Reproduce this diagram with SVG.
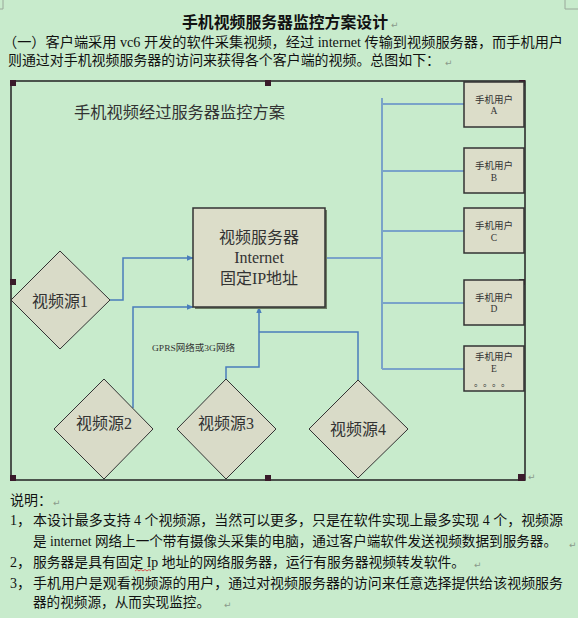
<svg xmlns="http://www.w3.org/2000/svg" width="578" height="618" viewBox="0 0 578 618">
<defs>
<style>
.bg{fill:#c8ebcc}
.body{font-family:"Liberation Serif","Noto Sans CJK SC",serif;font-size:14px;fill:#111}
.ret{font-family:"DejaVu Sans",sans-serif;font-size:9px;fill:#8a9a8a}
.dg{font-family:"Liberation Serif","Noto Sans CJK SC",serif;fill:#333}
.box{fill:#dcddc9;stroke:#333;stroke-width:1.5}
.dia{fill:#d9dbc8;stroke:#333;stroke-width:1}
.conn{fill:none;stroke:#4a7ebb;stroke-width:1.5}
.bus{fill:none;stroke:#7aa3c9;stroke-width:2}
.h{fill:#3a1a2a}
</style>
<marker id="arr" viewBox="0 0 10 10" refX="9" refY="5" markerWidth="7" markerHeight="7" orient="auto" markerUnits="userSpaceOnUse">
<path d="M0,1 L10,5 L0,9 Z" fill="#4a7ebb"/>
</marker>
</defs>
<rect class="bg" x="0" y="0" width="578" height="618"/>
<!-- page corner marks -->
<path d="M3,0 V9 H0 M565,0 V9 H578" fill="none" stroke="#9aa89a" stroke-width="1"/>
<!-- heading text -->
<text x="182" y="28" font-family="'Liberation Serif','Noto Sans CJK SC',serif" font-size="16" font-weight="bold" fill="#111" textLength="206" lengthAdjust="spacingAndGlyphs">手机视频服务器监控方案设计</text>
<text class="ret" x="391" y="28">↵</text>
<text class="body" x="3" y="47" textLength="560" lengthAdjust="spacingAndGlyphs">（一）客户端采用 vc6 开发的软件采集视频，经过 internet 传输到视频服务器，而手机用户</text>
<text class="body" x="8" y="65" textLength="432" lengthAdjust="spacingAndGlyphs">则通过对手机视频服务器的访问来获得各个客户端的视频。总图如下：</text>
<text class="ret" x="445" y="66">↵</text>
<!-- frame -->
<rect x="11" y="81" width="514" height="399" fill="none" stroke="#222" stroke-width="1.5"/>
<g class="h">
<rect x="10" y="80" width="6" height="6"/><rect x="265" y="80" width="6" height="6"/><rect x="519" y="80" width="6" height="6"/>
<rect x="10" y="279" width="6" height="6"/><rect x="519" y="279" width="6" height="6"/>
<rect x="10" y="475" width="6" height="6"/><rect x="265" y="475" width="6" height="6"/><rect x="518" y="474" width="7" height="7"/>
</g>
<text class="ret" x="528" y="480">↵</text>
<text class="dg" x="74" y="118" font-size="16" textLength="211" lengthAdjust="spacingAndGlyphs">手机视频经过服务器监控方案</text>
<text class="dg" x="152" y="351" font-size="9" textLength="83" lengthAdjust="spacingAndGlyphs">GPRS网络或3G网络</text>
<!-- connectors -->
<g id="connectors">
<path class="conn" d="M110,300 H123 V258 H193" marker-end="url(#arr)"/>
<path class="conn" d="M133,408 V307 H193" marker-end="url(#arr)"/>
<path class="conn" d="M226,379 V367 H259 V307" marker-end="url(#arr)"/>
<path class="conn" d="M358,380 V332 H259"/>
<path class="bus" d="M325,258 H382 M382,98 V369 M382,104 H464 M382,171 H464 M382,231 H464 M382,303 H464 M382,369 H464"/>
</g>
<!-- server -->
<g id="server">
<rect x="195" y="210" width="132" height="99" fill="#6a7a62"/>
<rect class="box" x="193" y="208" width="132" height="99"/>
<text class="dg" x="259" y="243" font-size="16" text-anchor="middle">视频服务器</text>
<text class="dg" x="259" y="263" font-size="16" text-anchor="middle">Internet</text>
<text class="dg" x="259" y="284" font-size="16" text-anchor="middle">固定IP地址</text>
</g>
<!-- sources -->
<g id="src1"><path class="dia" d="M60,251 L110,300 L60,349 L11,300 Z"/><text class="dg" x="60" y="307" font-size="16" text-anchor="middle">视频源1</text></g>
<g id="src2"><path class="dia" d="M104,379 L153,429 L104,479 L54,429 Z"/><text class="dg" x="104" y="429" font-size="16" text-anchor="middle">视频源2</text></g>
<g id="src3"><path class="dia" d="M226,379 L276,429 L226,479 L177,429 Z"/><text class="dg" x="226" y="429" font-size="16" text-anchor="middle">视频源3</text></g>
<g id="src4"><path class="dia" d="M358,380 L408,429 L358,478 L309,429 Z"/><text class="dg" x="358" y="435" font-size="16" text-anchor="middle">视频源4</text></g>
<!-- phones -->
<g id="userA"><rect class="box" x="464" y="82" width="60" height="45"/><text class="dg" x="494" y="103" font-size="9.5" text-anchor="middle">手机用户</text><text class="dg" x="494" y="114" font-size="9.5" text-anchor="middle">A</text></g>
<g id="userB"><rect class="box" x="464" y="148" width="60" height="45"/><text class="dg" x="494" y="169" font-size="9.5" text-anchor="middle">手机用户</text><text class="dg" x="494" y="181" font-size="9.5" text-anchor="middle">B</text></g>
<g id="userC"><rect class="box" x="464" y="208" width="60" height="45"/><text class="dg" x="494" y="229" font-size="9.5" text-anchor="middle">手机用户</text><text class="dg" x="494" y="241" font-size="9.5" text-anchor="middle">C</text></g>
<g id="userD"><rect class="box" x="464" y="280" width="60" height="45"/><text class="dg" x="494" y="301" font-size="9.5" text-anchor="middle">手机用户</text><text class="dg" x="494" y="312" font-size="9.5" text-anchor="middle">D</text></g>
<g id="userE"><rect class="box" x="464" y="346" width="60" height="45"/><text class="dg" x="494" y="360" font-size="9.5" text-anchor="middle">手机用户</text><text class="dg" x="494" y="372" font-size="9.5" text-anchor="middle">E</text><text class="dg" x="474" y="386" font-size="9" textLength="36" lengthAdjust="spacing">。。。。</text></g>
<!-- notes -->
<text class="body" x="10" y="505">说明：</text>
<text class="ret" x="53" y="506">↵</text>
<text class="body" x="10" y="525">1，</text>
<text class="body" x="33" y="525" font-size="13.6" textLength="530" lengthAdjust="spacingAndGlyphs">本设计最多支持 4 个视频源，当然可以更多，只是在软件实现上最多实现 4 个，视频源</text>
<text class="body" x="33" y="546" font-size="13.4" textLength="524" lengthAdjust="spacingAndGlyphs">是 internet 网络上一个带有摄像头采集的电脑，通过客户端软件发送视频数据到服务器。</text>
<text class="ret" x="569" y="548" font-size="8">↵</text>
<text class="body" x="10" y="567">2，</text>
<text class="body" x="33" y="567" textLength="432" lengthAdjust="spacingAndGlyphs">服务器是具有固定 Ip 地址的网络服务器，运行有服务器视频转发软件。</text>
<text class="ret" x="474" y="568">↵</text>
<path d="M135,571 l2,-1.5 l2,1.5 l2,-1.5 l2,1.5 l2,-1.5 l2,1.5 l2,-1.5 l2,1.5" fill="none" stroke="#e03030" stroke-width="0.8"/>
<text class="body" x="10" y="588">3，</text>
<text class="body" x="33" y="588" textLength="530" lengthAdjust="spacingAndGlyphs">手机用户是观看视频源的用户，通过对视频服务器的访问来任意选择提供给该视频服务</text>
<text class="body" x="33" y="607" textLength="177" lengthAdjust="spacingAndGlyphs">器的视频源，从而实现监控。</text>
<text class="ret" x="224" y="608">↵</text>
</svg>
